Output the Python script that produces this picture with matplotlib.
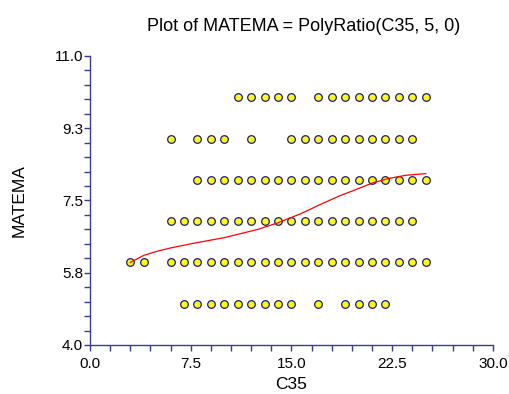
import numpy as np
import matplotlib.pyplot as plt

plt.rcParams['font.family'] = ['Liberation Sans', 'DejaVu Sans']

# observed C35 values for each MATEMA level
rows = {
    10: [11, 12, 13, 14, 15] + list(range(17, 26)),
    9: [6, 8, 9, 10, 12] + list(range(15, 25)),
    8: list(range(8, 26)),
    7: list(range(6, 25)),
    6: [3, 4] + list(range(6, 26)),
    5: list(range(7, 16)) + [17, 19, 20, 21, 22],
}

# fitted PolyRatio(C35, 5, 0) curve
fit_x = [3, 4, 5, 6, 7.5, 9, 10, 12.5, 14, 15.7, 17, 18.5, 20, 21, 22.2, 23.5, 25]
fit_y = [6.0, 6.17, 6.27, 6.35, 6.45, 6.54, 6.6, 6.8, 6.96, 7.18, 7.38, 7.6, 7.79, 7.92, 8.03, 8.11, 8.15]

xticks = [0.0, 7.5, 15.0, 22.5, 30.0]
xlabels = ['0.0', '7.5', '15.0', '22.5', '30.0']
yticks = [4.0, 5.75, 7.5, 9.25, 11.0]
ylabels = ['4.0', '5.8', '7.5', '9.3', '11.0']

x = []
y = []
for level, xs in rows.items():
    x += xs
    y += [level] * len(xs)

axis_col = '#3a3aa0'

fig = plt.figure(figsize=(5.1, 3.94), dpi=100)
ax = fig.add_axes([0.1765, 0.1244, 0.79, 0.7336])

ax.scatter(x, y, s=30, c='#ffff00', edgecolors='#1a1a80', linewidths=0.9, zorder=3)
ax.plot(fit_x, fit_y, color='red', lw=0.9, zorder=4)

ax.set_xlim(0, 30)
ax.set_ylim(4, 11)
ax.set_xticks(xticks)
ax.set_xticklabels(xlabels)
ax.set_xticks(np.arange(0, 30.01, 1.5), minor=True)
ax.set_yticks(yticks)
ax.set_yticklabels(ylabels)
ax.set_yticks(np.linspace(4, 11, 21), minor=True)

for s in ['top', 'right']:
    ax.spines[s].set_visible(False)
for s in ['left', 'bottom']:
    ax.spines[s].set_color(axis_col)
    ax.spines[s].set_linewidth(1.0)
ax.tick_params(which='both', direction='out', color=axis_col, width=1.0, length=4,
               labelsize=11, labelcolor='black', pad=1)
ax.tick_params(axis='x', which='major', pad=5)

ax.set_xlabel('C35', fontsize=12.5, labelpad=4)
ax.set_ylabel('MATEMA', fontsize=12.5, labelpad=20)
ax.set_title('Plot of MATEMA = PolyRatio(C35, 5, 0)', fontsize=13, pad=18, x=0.53)

fig.savefig('out.png', dpi=100)
